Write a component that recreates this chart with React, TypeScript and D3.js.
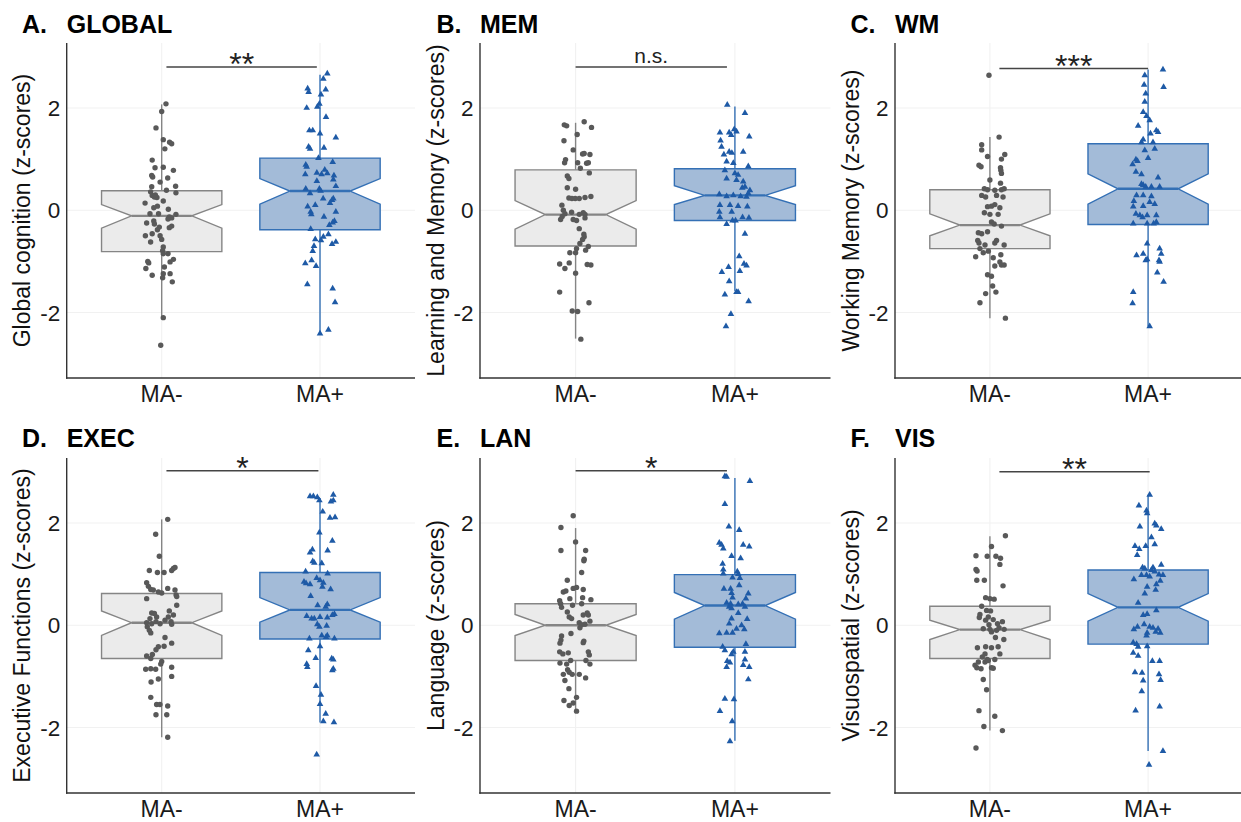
import React from "react";
import * as d3 from "d3";

// ---- data ----
const groups = ["MA-", "MA+"];
const yTicks = [-2, 0, 2];
const panelLetters = ["A.", "B.", "C.", "D.", "E.", "F."];
const panelTitles = ["GLOBAL", "MEM", "WM", "EXEC", "LAN", "VIS"];
const yLabels = [
  "Global cognition (z-scores)",
  "Learning and Memory (z-scores)",
  "Working Memory (z-scores)",
  "Executive Functions (z-scores)",
  "Language (z-scores)",
  "Visuospatial (z-scores)",
];
const sigLabels = ["**", "n.s.", "***", "*", "*", "**"];
const sigBarY = [2.8, 2.8, 2.77, 3.02, 3.02, 3.0];
const sigBarX = [
  [1.03, 1.98],
  [1.0, 1.95],
  [1.06, 2.0],
  [1.03, 1.99],
  [1.0, 1.95],
  [1.06, 2.01],
];

// [lower whisker, q1, notch low, median, notch high, q3, upper whisker]
const boxMinus = [
  [-2.1, -0.81, -0.35, -0.11, 0.11, 0.38, 2.07],
  [-2.51, -0.7, -0.37, -0.085, 0.19, 0.79, 1.71],
  [-2.11, -0.75, -0.5, -0.29, -0.07, 0.4, 1.43],
  [-2.19, -0.65, -0.2, 0.05, 0.28, 0.62, 2.07],
  [-1.67, -0.69, -0.2, 0.0, 0.21, 0.42, 1.9],
  [-2.06, -0.65, -0.28, -0.085, 0.1, 0.37, 1.74],
];
const boxPlus = [
  [-2.41, -0.38, 0.12, 0.375, 0.62, 1.02, 2.65],
  [-1.58, -0.2, 0.11, 0.29, 0.48, 0.81, 2.03],
  [-2.27, -0.28, 0.12, 0.42, 0.71, 1.3, 2.75],
  [-1.9, -0.27, 0.06, 0.3, 0.54, 1.03, 2.49],
  [-2.26, -0.43, 0.12, 0.385, 0.64, 0.99, 2.88],
  [-2.46, -0.37, 0.08, 0.35, 0.62, 1.08, 2.55],
];

// points: [jitter offset (category units), z-score]
const globalMinus = [
  [0.027, 2.08], [0, 1.93], [-0.036, 1.61], [0.01, 1.38], [0.05, 1.33], [0.063, 1.3], [0.02, 1.2],
  [-0.06, 0.98], [-0.042, 0.83], [0.01, 0.84], [0.074, 0.78], [-0.063, 0.68], [-0.057, 0.65],
  [0.038, 0.63], [-0.01, 0.55], [-0.063, 0.46], [0.088, 0.47], [0.03, 0.39], [0.09, 0.34],
  [-0.07, 0.36], [-0.06, 0.29], [-0.046, 0.26], [-0.03, 0.25], [-0.04, 0.3], [0.01, 0.18],
  [-0.105, 0.14], [-0.027, 0.08], [-0.05, 0.05], [0.042, 0.02], [-0.074, -0.07], [-0.02, -0.07],
  [0.048, -0.13], [0.063, -0.15], [0.04, -0.17], [0.09, -0.08], [-0.095, -0.25], [-0.05, -0.21],
  [-0.046, -0.27], [-0.015, -0.33], [-0.027, -0.38], [0.048, -0.34], [0.063, -0.31], [-0.103, -0.5],
  [-0.06, -0.46], [-0.01, -0.5], [-0.07, -0.62], [0, -0.57], [0.01, -0.72], [0.006, -0.79],
  [0.01, -0.85], [0.04, -0.85], [0.074, -0.96], [0.053, -1.01], [-0.088, -1.0], [-0.082, -1.03],
  [-0.1, -1.14], [0.017, -1.11], [0.01, -1.24], [0.053, -1.24], [-0.06, -1.27], [0.006, -1.32],
  [0.067, -1.4], [0.01, -2.1], [-0.006, -2.64],
];
const globalPlus = [
  [0.046, 2.67], [0.021, 2.57], [-0.078, 2.38], [-0.072, 2.31], [0.036, 2.36], [0.006, 2.26],
  [-0.004, 2.08], [-0.017, 2.02], [-0.084, 2.0], [0.038, 1.82], [-0.067, 1.56], [-0.046, 1.56],
  [0.1, 1.42], [0, 1.5], [-0.072, 1.24], [-0.063, 1.2], [0.025, 1.22], [-0.01, 1.02], [0.08, 0.94],
  [-0.09, 0.89], [-0.084, 0.85], [-0.02, 0.73], [0.03, 0.79], [0.046, 0.72], [0.01, 0.7],
  [0.088, 0.68], [-0.093, 0.7], [0.084, 0.6], [-0.02, 0.57], [0.1, 0.47], [-0.09, 0.42],
  [-0.004, 0.42], [0.004, 0.38], [-0.063, 0.33], [0.02, 0.23], [0.076, 0.2], [0.084, 0.23],
  [0.063, 0.14], [-0.03, 0.1], [-0.078, 0.07], [-0.059, -0.03], [-0.055, -0.08], [0.1, -0.03],
  [0.025, -0.13], [0.091, -0.21], [0.08, -0.24], [0.059, -0.29], [-0.059, -0.37], [0.053, -0.47],
  [0.021, -0.52], [0.006, -0.59], [-0.03, -0.57], [0.1, -0.62], [0.076, -0.66], [-0.038, -0.7],
  [-0.046, -0.8], [-0.053, -0.98], [-0.093, -1.04], [-0.025, -1.09], [-0.08, -1.45], [0.08, -1.53],
  [0.095, -1.8], [0, -2.41], [0.053, -2.34],
];
const memMinus = [
  [0.054, 1.73], [-0.071, 1.67], [-0.056, 1.65], [0.1, 1.62], [0.01, 1.48], [-0.073, 1.36],
  [-0.015, 1.18], [0.044, 1.1], [0.054, 1.11], [0.09, 1.09], [-0.063, 0.99], [-0.069, 0.93],
  [0.013, 0.93], [0.069, 0.92], [0.08, 0.93], [0.03, 0.82], [0.086, 0.73], [-0.052, 0.67],
  [-0.042, 0.62], [-0.052, 0.44], [0, 0.41], [-0.042, 0.24], [-0.023, 0.23], [-0.002, 0.23],
  [0.023, 0.23], [0.059, 0.25], [0.096, 0.27], [-0.086, 0.1], [-0.077, 0], [-0.067, -0.07],
  [-0.025, -0.04], [0.048, -0.05], [0.059, -0.08], [-0.094, -0.18], [-0.015, -0.18], [0.006, -0.2],
  [-0.084, -0.12], [0.023, -0.36], [0.052, -0.47], [0.054, -0.52], [0.044, -0.57], [0.027, -0.65],
  [0.08, -0.71], [0.006, -0.75], [0.063, -0.78], [-0.036, -0.83], [0, -0.83], [-0.1, -1.05],
  [-0.04, -1.03], [-0.067, -1.14], [0.073, -1.06], [0.096, -1.07], [0, -1.23], [-0.1, -1.6],
  [0.084, -1.81], [-0.021, -1.97], [0.013, -1.98], [0.033, -2.52], [0.023, -0.08], [0.059, -0.15],
];
const memPlus = [
  [-0.048, 2.06], [0.063, 1.9], [-0.094, 1.52], [-0.036, 1.52], [-0.023, 1.47], [-0.004, 1.58],
  [0.01, 1.54], [0.09, 1.44], [-0.09, 1.36], [-0.084, 1.24], [-0.036, 1.14], [-0.019, 1.12],
  [-0.069, 1.09], [0.052, 1.14], [-0.052, 0.95], [-0.01, 0.92], [0.084, 0.86], [-0.063, 0.78],
  [0, 0.72], [0.02, 0.69], [-0.052, 0.62], [0.01, 0.59], [0.052, 0.56], [0.046, 0.44],
  [0.063, 0.46], [0.094, 0.39], [-0.098, 0.31], [-0.052, 0.27], [-0.01, 0.29], [0.036, 0.27],
  [0.084, 0.33], [0.073, 0.26], [-0.094, 0.1], [-0.031, 0.1], [0.02, 0.08], [0.078, 0.07],
  [-0.098, -0.03], [-0.02, -0.03], [-0.094, -0.14], [-0.015, -0.2], [0.004, -0.2], [0.048, -0.14],
  [0.088, -0.15], [-0.052, -0.27], [0.063, -0.46], [0.027, -0.9], [0.057, -1.05], [0.073, -1.08],
  [-0.04, -1.11], [-0.082, -1.21], [0.031, -1.19], [-0.036, -1.39], [0.01, -1.6], [0.02, -1.6],
  [-0.063, -1.65], [0.086, -1.78], [-0.025, -2.03], [-0.056, -2.27],
];
const wmMinus = [
  [-0.006, 2.64], [0.058, 1.43], [-0.052, 1.28], [-0.052, 1.18], [0.094, 1.09], [-0.015, 1.05],
  [0.073, 1.0], [-0.069, 0.88], [-0.056, 0.85], [0.067, 0.83], [0.069, 0.78], [0.073, 0.72],
  [0, 0.59], [0.067, 0.53], [-0.035, 0.42], [-0.015, 0.4], [0.031, 0.39], [0.09, 0.42],
  [0.073, 0.4], [-0.052, 0.29], [-0.027, 0.26], [0.042, 0.29], [0.083, 0.26], [-0.015, 0.07],
  [0.01, 0.08], [0.031, 0.11], [0.063, 0.05], [-0.035, -0.05], [0, -0.08], [0.052, -0.08],
  [0.01, -0.23], [0.027, -0.27], [0.073, -0.31], [-0.073, -0.44], [-0.052, -0.46], [-0.015, -0.42],
  [-0.077, -0.59], [-0.069, -0.64], [0.042, -0.59], [0.031, -0.64], [-0.031, -0.68], [0.09, -0.68],
  [-0.063, -0.75], [-0.042, -0.83], [-0.01, -0.8], [0.069, -0.87], [-0.09, -0.91], [0.021, -0.93],
  [0.063, -1.01], [0.073, -1.07], [0.09, -1.07], [0.031, -1.09], [-0.015, -1.26], [0.01, -1.29],
  [0.017, -1.48], [0.038, -1.6], [-0.027, -1.63], [-0.063, -1.81], [0.098, -2.11],
];
const wmPlus = [
  [0.094, 2.75], [-0.021, 2.64], [0.098, 2.41], [-0.025, 2.45], [-0.015, 2.28], [-0.021, 2.12],
  [-0.031, 1.92], [-0.01, 1.84], [0.01, 1.76], [-0.063, 1.65], [0.052, 1.56], [0.063, 1.53],
  [0.015, 1.5], [-0.031, 1.38], [-0.042, 1.33], [0.031, 1.33], [-0.021, 1.17], [0.042, 1.2],
  [0, 1.02], [-0.077, 0.99], [-0.067, 0.96], [-0.098, 0.9], [-0.077, 0.75], [-0.042, 0.7],
  [0.063, 0.64], [-0.031, 0.49], [-0.042, 0.51], [-0.015, 0.46], [0.021, 0.46], [0.073, 0.46],
  [-0.073, 0.29], [-0.031, 0.29], [0.021, 0.27], [-0.09, 0.18], [0.01, 0.16], [-0.031, 0.08],
  [0.042, 0.12], [-0.094, 0.07], [-0.077, -0.07], [-0.052, -0.1], [-0.006, -0.1], [0.052, -0.1],
  [-0.035, -0.14], [-0.094, -0.26], [-0.006, -0.26], [0.052, -0.23], [0.035, -0.26], [-0.006, -0.65],
  [0.073, -0.75], [0.083, -0.85], [-0.073, -0.88], [-0.031, -0.85], [-0.015, -0.98], [-0.006, -0.96],
  [0.069, -0.98], [0.073, -1.01], [0.058, -1.22], [0.098, -1.4], [-0.094, -1.6], [-0.098, -1.82],
  [0.01, -2.27],
];
const execMinus = [
  [0.038, 2.07], [-0.038, 1.78], [-0.015, 1.35], [-0.078, 1.07], [-0.027, 1.03], [0.015, 1.03],
  [0.063, 1.07], [0.074, 1.11], [0.084, 1.13], [-0.095, 0.83], [-0.084, 0.76], [-0.069, 0.7],
  [-0.053, 0.69], [-0.021, 0.65], [0, 0.63], [0.038, 0.72], [0.084, 0.69], [0.091, 0.59],
  [0.095, 0.56], [-0.095, 0.52], [0.095, 0.39], [0.048, 0.28], [0.074, 0.2], [-0.063, 0.24],
  [-0.046, 0.23], [-0.074, 0.13], [-0.032, 0.16], [0.021, 0.1], [0.042, 0.16], [0.059, 0.07],
  [-0.095, 0.05], [-0.063, 0.03], [-0.036, 0.07], [-0.01, 0.03], [0.063, 0.02], [-0.091, -0.03],
  [-0.078, -0.1], [-0.069, -0.15], [0.021, -0.24], [0.063, -0.35], [0.015, -0.41], [-0.021, -0.42],
  [-0.036, -0.48], [-0.095, -0.6], [-0.059, -0.57], [-0.069, -0.65], [0, -0.71], [-0.006, -0.76],
  [-0.101, -0.86], [-0.069, -0.85], [-0.038, -0.86], [0.063, -0.82], [-0.021, -1.05], [0.063, -1.0],
  [-0.067, -1.11], [-0.069, -1.41], [-0.032, -1.55], [-0.011, -1.55], [0.038, -1.58], [-0.036, -1.75],
  [0.032, -1.75], [0.038, -2.19],
];
const execPlus = [
  [-0.063, 2.52], [-0.042, 2.52], [-0.017, 2.5], [-0.004, 2.44], [0.084, 2.55], [0.069, 2.42],
  [0.084, 2.44], [0.017, 2.22], [0.063, 2.1], [0.095, 2.11], [-0.004, 1.81], [0.078, 1.65],
  [-0.048, 1.48], [-0.063, 1.42], [0.048, 1.46], [-0.046, 1.25], [-0.036, 1.22], [0.011, 1.21],
  [-0.091, 1.05], [0.048, 1.01], [-0.101, 0.85], [-0.088, 0.82], [-0.063, 0.8], [-0.021, 0.92],
  [0, 0.88], [0.021, 0.83], [0.015, 0.75], [0.067, 0.7], [-0.059, 0.57], [-0.015, 0.39],
  [0.046, 0.41], [0.036, 0.36], [0.091, 0.22], [-0.084, 0.18], [-0.053, 0.13], [-0.036, 0.13],
  [0, 0.16], [0.046, 0.15], [0.078, 0.2], [-0.017, 0.02], [-0.004, -0.03], [0.042, -0.01],
  [0.011, -0.2], [0.038, -0.23], [0.046, -0.2], [-0.067, -0.26], [0.091, -0.26], [0, -0.41],
  [-0.074, -0.49], [-0.027, -0.64], [0.074, -0.65], [0.084, -0.67], [-0.084, -0.76], [-0.08, -0.82],
  [0.084, -0.85], [0.078, -0.88], [-0.025, -1.19], [0.006, -1.36], [0, -1.54], [0.036, -1.73],
  [0.021, -1.88], [0.088, -1.9], [-0.021, -2.53],
];
const lanMinus = [
  [-0.015, 2.14], [-0.092, 1.91], [0, 1.63], [-0.092, 1.46], [0.063, 1.46], [0.054, 1.29],
  [0.052, 1.26], [0.038, 1.03], [-0.052, 0.88], [-0.077, 0.65], [-0.061, 0.67], [-0.015, 0.72],
  [0.006, 0.74], [0.048, 0.7], [-0.1, 0.48], [-0.094, 0.42], [-0.036, 0.52], [0.044, 0.54],
  [0.096, 0.5], [-0.019, 0.39], [0.038, 0.42], [-0.088, 0.35], [-0.052, 0.26], [-0.04, 0.16],
  [-0.025, 0.13], [0.048, 0.2], [0.073, 0.24], [0.08, 0.2], [0.023, 0.05], [0.038, 0.01],
  [0.059, 0.02], [0.09, 0.08], [0.027, -0.05], [-0.029, -0.16], [-0.088, -0.21], [-0.092, -0.29],
  [-0.098, -0.35], [0.052, -0.31], [0.048, -0.34], [-0.1, -0.52], [-0.08, -0.56], [-0.046, -0.54],
  [0.08, -0.52], [0.086, -0.58], [-0.031, -0.69], [0.065, -0.69], [-0.098, -0.74], [-0.056, -0.76],
  [0.09, -0.76], [-0.05, -0.87], [-0.04, -0.92], [-0.077, -0.96], [-0.021, -0.96], [0.023, -0.96],
  [-0.067, -1.08], [0.063, -1.03], [-0.042, -1.24], [0.006, -1.41], [-0.073, -1.47], [-0.04, -1.57],
  [-0.015, -1.52], [0.006, -1.68],
];
const lanPlus = [
  [-0.063, 2.91], [-0.052, 2.9], [0.094, 2.82], [-0.063, 2.37], [-0.038, 1.93], [0.027, 1.86],
  [-0.098, 1.61], [-0.084, 1.57], [-0.073, 1.5], [0.052, 1.57], [0.09, 1.54], [-0.021, 1.35],
  [0.036, 1.31], [-0.077, 1.2], [-0.073, 1.09], [-0.073, 1.01], [0.015, 1.05], [0.021, 1.0],
  [-0.015, 0.93], [0.031, 0.92], [0.027, 0.78], [-0.069, 0.71], [-0.027, 0.71], [-0.021, 0.63],
  [0.084, 0.62], [-0.015, 0.54], [0.069, 0.52], [-0.052, 0.44], [-0.027, 0.42], [-0.036, 0.36],
  [-0.021, 0.33], [0.021, 0.41], [0.063, 0.36], [0.048, 0.42], [0.021, 0.24], [-0.021, 0.13],
  [0.077, 0.12], [-0.036, 0.03], [0.042, 0.0], [0.01, -0.07], [0.059, -0.08], [-0.098, -0.16],
  [-0.052, -0.15], [-0.015, -0.15], [0.069, -0.37], [-0.077, -0.42], [-0.063, -0.49], [-0.01, -0.52],
  [-0.021, -0.57], [0.063, -0.52], [-0.048, -0.7], [-0.031, -0.73], [0.063, -0.67], [-0.052, -0.82],
  [0.052, -0.78], [0.09, -0.82], [0.084, -1.06], [-0.063, -1.44], [-0.006, -1.45], [-0.094, -1.68],
  [-0.017, -1.88], [-0.031, -2.27],
];
const visMinus = [
  [0.098, 1.75], [0.01, 1.54], [-0.088, 1.36], [-0.017, 1.35], [0.038, 1.35], [0.067, 1.31],
  [0.063, 1.19], [-0.088, 1.09], [-0.081, 1.06], [-0.083, 0.88], [-0.035, 0.88], [0.083, 0.77],
  [-0.027, 0.54], [0, 0.52], [0.027, 0.51], [-0.052, 0.37], [-0.021, 0.29], [0.004, 0.28],
  [-0.063, 0.21], [-0.067, 0.15], [-0.027, 0.1], [0.021, 0.11], [-0.006, 0.01], [0.048, 0.03],
  [0.079, 0.07], [-0.042, -0.07], [0, -0.08], [0.01, -0.13], [0.042, -0.1], [0.058, -0.05],
  [0.09, -0.08], [0.035, -0.24], [0.088, -0.28], [-0.079, -0.44], [-0.027, -0.42], [0.01, -0.44],
  [0.052, -0.42], [-0.031, -0.56], [0.063, -0.56], [-0.048, -0.62], [-0.017, -0.67], [0.031, -0.67],
  [-0.073, -0.72], [-0.094, -0.78], [-0.083, -0.83], [-0.056, -0.85], [0.01, -0.83], [0.021, -0.84],
  [-0.042, -1.06], [-0.021, -1.26], [-0.069, -1.67], [0.031, -1.78], [-0.038, -1.98], [0.079, -2.06],
  [-0.088, -2.4], [-0.01, 0.16], [-0.031, -0.72], [-0.01, -0.69],
];
const visPlus = [
  [0.01, 2.55], [-0.058, 2.34], [-0.01, 2.24], [-0.006, 2.19], [0.042, 1.99], [0.052, 1.95],
  [0.083, 1.88], [-0.052, 1.93], [0.021, 1.72], [-0.083, 1.55], [-0.056, 1.49], [-0.015, 1.55],
  [-0.069, 1.37], [0.042, 1.58], [-0.035, 1.13], [-0.021, 1.11], [0.031, 1.13], [0.083, 1.18],
  [-0.042, 0.98], [-0.01, 0.98], [0.021, 1.08], [0.042, 1.05], [0.069, 0.99], [0.094, 0.98],
  [-0.09, 0.9], [0.01, 0.95], [0.077, 0.87], [-0.006, 0.75], [0.052, 0.8], [0.048, 0.69],
  [-0.021, 0.62], [-0.063, 0.44], [0.052, 0.29], [-0.031, 0.2], [-0.006, 0.22], [-0.067, -0.03],
  [-0.09, -0.08], [-0.025, 0.02], [0.01, -0.03], [0.031, -0.05], [0.063, -0.07], [0.077, -0.15],
  [-0.006, -0.15], [-0.01, -0.2], [0.048, -0.13], [-0.094, -0.34], [-0.073, -0.37], [-0.063, -0.42],
  [-0.006, -0.41], [-0.094, -0.54], [-0.063, -0.6], [0.027, -0.7], [0.073, -0.7], [-0.083, -0.92],
  [-0.038, -0.93], [0.069, -0.96], [0.079, -1.07], [-0.031, -1.08], [-0.04, -1.29], [-0.079, -1.67],
  [0.073, -1.59], [0.094, -2.46], [0.006, -2.73],
];

const pointsMinus = [globalMinus, memMinus, wmMinus, execMinus, lanMinus, visMinus];
const pointsPlus = [globalPlus, memPlus, wmPlus, execPlus, lanPlus, visPlus];

// ---- layout & style ----
const W = 1241;
const H = 822;
const FONT = "'Liberation Sans', Arial, Helvetica, sans-serif";
const panelLeft = [66.7, 480, 895];
const panelRight = [415, 830.5, 1243];
const rowTop = [43, 458];
const rowBottom = [378, 793];
const letterX = [22, 436.5, 850.5];
const titleBaseline = [33, 447];
const yDomain = [-3.28, 3.27];
const boxWidth = 0.76;

const styleMinus = { fill: "#EBEBEB", stroke: "#858585", point: "#595959" };
const stylePlus = { fill: "#A3BBD8", stroke: "#3470B5", point: "#1E5AA6" };

const triangle = d3.symbol().type(d3.symbolTriangle).size(19)();

function Box({ x, y, pos, stats, st }) {
  const [wLo, q1, nLo, med, nHi, q3, wHi] = stats;
  const xl = x(pos - boxWidth / 2);
  const xr = x(pos + boxWidth / 2);
  const xc = x(pos);
  const inset = (xr - xl) / 4;
  const d =
    `M${xl},${y(q3)}L${xl},${y(nHi)}L${xl + inset},${y(med)}L${xl},${y(nLo)}L${xl},${y(q1)}` +
    `L${xr},${y(q1)}L${xr},${y(nLo)}L${xr - inset},${y(med)}L${xr},${y(nHi)}L${xr},${y(q3)}Z`;
  return (
    <g>
      <line x1={xc} x2={xc} y1={y(wHi)} y2={y(q3)} stroke={st.stroke} strokeWidth={1.4} />
      <line x1={xc} x2={xc} y1={y(q1)} y2={y(wLo)} stroke={st.stroke} strokeWidth={1.4} />
      <path d={d} fill={st.fill} stroke={st.stroke} strokeWidth={1.4} />
      <line
        x1={xl + inset}
        x2={xr - inset}
        y1={y(med)}
        y2={y(med)}
        stroke={st.stroke}
        strokeWidth={2.4}
      />
    </g>
  );
}

function Panel({ i }) {
  const col = i % 3;
  const row = Math.floor(i / 3);
  const left = panelLeft[col];
  const right = panelRight[col];
  const top = rowTop[row];
  const bottom = rowBottom[row];
  const x = d3.scaleLinear().domain([0.4, 2.6]).range([left, right]);
  const y = d3.scaleLinear().domain(yDomain).range([bottom, top]);
  const [sx0, sx1] = sigBarX[i];
  const sy = y(sigBarY[i]);
  const isNs = sigLabels[i] === "n.s.";

  return (
    <g>
      {/* grid */}
      {yTicks.map((t) => (
        <line key={"h" + t} x1={left} x2={right} y1={y(t)} y2={y(t)} stroke="#F1F1F1" strokeWidth={1.1} />
      ))}
      {groups.map((g, gi) => (
        <line key={"v" + g} x1={x(gi + 1)} x2={x(gi + 1)} y1={top} y2={bottom} stroke="#F1F1F1" strokeWidth={1.1} />
      ))}

      {/* boxes */}
      <Box x={x} y={y} pos={1} stats={boxMinus[i]} st={styleMinus} />
      <Box x={x} y={y} pos={2} stats={boxPlus[i]} st={stylePlus} />

      {/* points */}
      {pointsMinus[i].map(([dx, v], k) => (
        <circle key={"m" + k} cx={x(1 + dx)} cy={y(v)} r={2.7} fill={styleMinus.point} />
      ))}
      {pointsPlus[i].map(([dx, v], k) => (
        <path key={"p" + k} d={triangle} transform={`translate(${x(2 + dx)},${y(v)})`} fill={stylePlus.point} />
      ))}

      {/* axes */}
      <line x1={left} x2={left} y1={top} y2={bottom + 0.7} stroke="#333" strokeWidth={1.4} />
      <line x1={left - 0.7} x2={right} y1={bottom} y2={bottom} stroke="#333" strokeWidth={1.4} />
      {yTicks.map((t) => (
        <text
          key={"yt" + t}
          x={left - 6.5}
          y={y(t)}
          dy="0.36em"
          textAnchor="end"
          fontSize={22.5}
          fill="#1a1a1a"
          fontFamily={FONT}
        >
          {t}
        </text>
      ))}
      {groups.map((g, gi) => (
        <text
          key={"xt" + g}
          x={x(gi + 1)}
          y={bottom + 23.5}
          textAnchor="middle"
          fontSize={23}
          fill="#1a1a1a"
          fontFamily={FONT}
        >
          {g}
        </text>
      ))}
      <text
        transform={`translate(${left - 36.5},${(top + bottom) / 2}) rotate(-90)`}
        textAnchor="middle"
        fontSize={23}
        fill="#111"
        fontFamily={FONT}
      >
        {yLabels[i]}
      </text>

      {/* significance */}
      <line x1={x(sx0)} x2={x(sx1)} y1={sy} y2={sy} stroke="#444" strokeWidth={1.4} />
      <text
        x={(x(sx0) + x(sx1)) / 2}
        y={isNs ? sy - 4 : sy + 8}
        textAnchor="middle"
        fontSize={isNs ? 21 : 32}
        fill="#222"
        fontFamily={FONT}
      >
        {sigLabels[i]}
      </text>

      {/* titles */}
      <text x={letterX[col]} y={titleBaseline[row]} fontSize={25} fontWeight="bold" fill="#000" fontFamily={FONT}>
        {panelLetters[i]}
      </text>
      <text x={left} y={titleBaseline[row]} fontSize={25} fontWeight="bold" fill="#000" fontFamily={FONT}>
        {panelTitles[i]}
      </text>
    </g>
  );
}

export default function App() {
  return (
    <svg
      width={W}
      height={H}
      viewBox={`0 0 ${W} ${H}`}
      style={{ position: "absolute", left: 0, top: 0, background: "#fff" }}
    >
      <rect width={W} height={H} fill="#fff" />
      {panelTitles.map((_, i) => (
        <Panel key={i} i={i} />
      ))}
    </svg>
  );
}
